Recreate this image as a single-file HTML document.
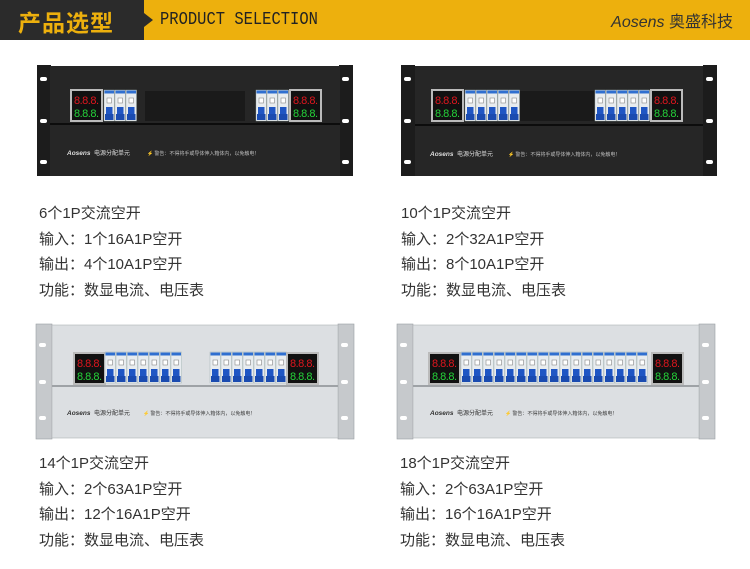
<!DOCTYPE html>
<html><head><meta charset="utf-8"><style>
body{margin:0;width:750px;height:569px;background:#fff;overflow:hidden;position:relative;font-family:"Liberation Sans","Noto Sans CJK SC",sans-serif}
.hdr{position:absolute;left:0;top:0;width:750px;height:40px;background:#edb00d}
.dk{position:absolute;left:0;top:0;width:144px;height:40px;background:#2b2b2b}
.arr{position:absolute;left:144px;top:13px;width:0;height:0;border-top:7px solid transparent;border-bottom:7px solid transparent;border-left:9px solid #2b2b2b}
.t1{position:absolute;left:18px;top:4px;font-size:23px;color:#edb00d;font-weight:bold;font-family:"Noto Sans CJK SC",sans-serif;letter-spacing:1px}
.t2{position:absolute;left:160px;top:10px;font-size:18px;color:#222;font-family:"Liberation Mono",monospace;transform:scaleX(.86);transform-origin:left}
.t3{position:absolute;right:17px;top:8px;font-size:16px;color:#333}
.t3 i{font-style:italic}
.tx{position:absolute;font-family:"Liberation Sans","Noto Sans CJK SC",sans-serif;font-size:15px;color:#333;line-height:25.5px}
svg{position:absolute;left:0;top:0}
</style></head><body>
<div class="hdr"></div><div class="dk"></div><div class="arr"></div>
<div class="t1">产品选型</div>
<div class="t2">PRODUCT SELECTION</div>
<div class="t3"><i>Aosens</i> 奥盛科技</div>

<svg width="750" height="569" viewBox="0 0 750 569">
<defs>
<g id="bk"><rect x="0" y="0" width="10.5" height="31" fill="#e8ecef" stroke="#9aa" stroke-width=".4"/><rect x="0.5" y="0.5" width="9.5" height="3" fill="#2f6fd0"/><rect x="3" y="8" width="4.5" height="5" fill="#fff" stroke="#888" stroke-width=".6"/><rect x="2" y="17" width="6.5" height="13" fill="#1f56c4"/><rect x="1" y="24" width="8.5" height="6" fill="#1a4bb0"/></g>
<g id="ds"><rect x="0" y="0" width="33" height="33" fill="#bbb"/><rect x="2" y="2" width="29" height="29" fill="#111"/><text x="4" y="15" font-family="Liberation Sans,sans-serif" font-size="11" fill="#e0161e" letter-spacing="-0.5">8.8.8.</text><text x="4" y="28" font-family="Liberation Sans,sans-serif" font-size="11" fill="#25d43a" letter-spacing="-0.5">8.8.8.</text></g>
<g id="earD"><rect x="0" y="0" width="14" height="111" fill="#1c1c1c"/><rect x="3" y="12" width="7" height="4" rx="2" fill="#fff"/><rect x="3" y="54" width="7" height="4" rx="2" fill="#fff"/><rect x="3" y="95" width="7" height="4" rx="2" fill="#fff"/></g>
<g id="earL"><rect x="0" y="0" width="16" height="115" fill="#c6c9cc"/><rect x="0" y="0" width="16" height="115" fill="none" stroke="#9a9ea2" stroke-width=".6"/><rect x="3" y="19" width="7" height="4" rx="2" fill="#fff"/><rect x="3" y="56" width="7" height="4" rx="2" fill="#fff"/><rect x="3" y="92" width="7" height="4" rx="2" fill="#fff"/></g>
</defs>

<use href="#earD" x="37" y="65"/><use href="#earD" x="339" y="65"/>
<rect x="50" y="66" width="290" height="110" fill="#262626"/>
<rect x="50" y="123" width="290" height="2" fill="#0c0c0c"/>
<rect x="145" y="91" width="100" height="30" fill="#1a1a1a"/>
<use href="#ds" x="70" y="89"/>
<use href="#bk" x="104" y="90"/><use href="#bk" x="115" y="90"/><use href="#bk" x="126" y="90"/>
<use href="#bk" x="256" y="90"/><use href="#bk" x="267" y="90"/><use href="#bk" x="278" y="90"/>
<use href="#ds" x="289" y="89"/>
<text x="67" y="155" font-size="6.5" fill="#ddd" font-style="italic" font-weight="bold" font-family="Liberation Sans,sans-serif">Aosens</text>
<text x="94" y="155" font-size="6" fill="#ddd" font-family="Noto Sans CJK SC,sans-serif">电源分配单元</text>
<text x="147" y="155" font-size="5" fill="#bbb" font-family="Noto Sans CJK SC,sans-serif">⚡ 警告：不得将手或导体伸入箱体内，以免触电！</text>

<use href="#earD" x="401" y="65"/><use href="#earD" x="703" y="65"/>
<rect x="415" y="66" width="288" height="110" fill="#262626"/>
<rect x="415" y="124" width="288" height="2" fill="#0c0c0c"/>
<rect x="520" y="91" width="74" height="30" fill="#1a1a1a"/>
<use href="#ds" x="431" y="89"/>
<use href="#bk" x="465" y="90"/><use href="#bk" x="476" y="90"/><use href="#bk" x="487" y="90"/><use href="#bk" x="498" y="90"/><use href="#bk" x="509" y="90"/>
<use href="#bk" x="595" y="90"/><use href="#bk" x="606" y="90"/><use href="#bk" x="617" y="90"/><use href="#bk" x="628" y="90"/><use href="#bk" x="639" y="90"/>
<use href="#ds" x="650" y="89"/>
<text x="430" y="156" font-size="6.5" fill="#ddd" font-style="italic" font-weight="bold" font-family="Liberation Sans,sans-serif">Aosens</text>
<text x="457" y="156" font-size="6" fill="#ddd" font-family="Noto Sans CJK SC,sans-serif">电源分配单元</text>
<text x="508" y="156" font-size="5" fill="#bbb" font-family="Noto Sans CJK SC,sans-serif">⚡ 警告：不得将手或导体伸入箱体内，以免触电！</text>

<use href="#earL" x="36" y="324"/><use href="#earL" x="338" y="324"/>
<rect x="52" y="325" width="286" height="113" fill="#dcdfe2" stroke="#aeb2b6" stroke-width=".6"/>
<rect x="52" y="385" width="286" height="2" fill="#9ea2a6"/>
<use href="#ds" x="73" y="352"/>
<use href="#bk" x="105" y="352"/><use href="#bk" x="116" y="352"/><use href="#bk" x="127" y="352"/><use href="#bk" x="138" y="352"/><use href="#bk" x="149" y="352"/><use href="#bk" x="160" y="352"/><use href="#bk" x="171" y="352"/>
<use href="#bk" x="210" y="352"/><use href="#bk" x="221" y="352"/><use href="#bk" x="232" y="352"/><use href="#bk" x="243" y="352"/><use href="#bk" x="254" y="352"/><use href="#bk" x="265" y="352"/><use href="#bk" x="276" y="352"/>
<use href="#ds" x="286" y="352"/>
<text x="67" y="415" font-size="6.5" fill="#333" font-style="italic" font-weight="bold" font-family="Liberation Sans,sans-serif">Aosens</text>
<text x="94" y="415" font-size="6" fill="#333" font-family="Noto Sans CJK SC,sans-serif">电源分配单元</text>
<text x="143" y="415" font-size="5" fill="#444" font-family="Noto Sans CJK SC,sans-serif">⚡ 警告：不得将手或导体伸入箱体内，以免触电！</text>

<use href="#earL" x="397" y="324"/><use href="#earL" x="699" y="324"/>
<rect x="413" y="325" width="286" height="113" fill="#dcdfe2" stroke="#aeb2b6" stroke-width=".6"/>
<rect x="413" y="385" width="286" height="2" fill="#9ea2a6"/>
<use href="#ds" x="428" y="352"/>
<g>
<use href="#bk" x="461" y="352"/><use href="#bk" x="472" y="352"/><use href="#bk" x="483" y="352"/><use href="#bk" x="494" y="352"/><use href="#bk" x="505" y="352"/><use href="#bk" x="516" y="352"/><use href="#bk" x="527" y="352"/><use href="#bk" x="538" y="352"/><use href="#bk" x="549" y="352"/><use href="#bk" x="560" y="352"/><use href="#bk" x="571" y="352"/><use href="#bk" x="582" y="352"/><use href="#bk" x="593" y="352"/><use href="#bk" x="604" y="352"/><use href="#bk" x="615" y="352"/><use href="#bk" x="626" y="352"/><use href="#bk" x="637" y="352"/>
</g>
<use href="#ds" x="651" y="352"/>
<text x="430" y="415" font-size="6.5" fill="#333" font-style="italic" font-weight="bold" font-family="Liberation Sans,sans-serif">Aosens</text>
<text x="457" y="415" font-size="6" fill="#333" font-family="Noto Sans CJK SC,sans-serif">电源分配单元</text>
<text x="505" y="415" font-size="5" fill="#444" font-family="Noto Sans CJK SC,sans-serif">⚡ 警告：不得将手或导体伸入箱体内，以免触电！</text>
</svg>

<div class="tx" style="left:39px;top:201px">6个1P交流空开<br>输入：1个16A1P空开<br>输出：4个10A1P空开<br>功能：数显电流、电压表</div>
<div class="tx" style="left:401px;top:201px">10个1P交流空开<br>输入：2个32A1P空开<br>输出：8个10A1P空开<br>功能：数显电流、电压表</div>
<div class="tx" style="left:39px;top:451px">14个1P交流空开<br>输入：2个63A1P空开<br>输出：12个16A1P空开<br>功能：数显电流、电压表</div>
<div class="tx" style="left:400px;top:451px">18个1P交流空开<br>输入：2个63A1P空开<br>输出：16个16A1P空开<br>功能：数显电流、电压表</div>
</body></html>
